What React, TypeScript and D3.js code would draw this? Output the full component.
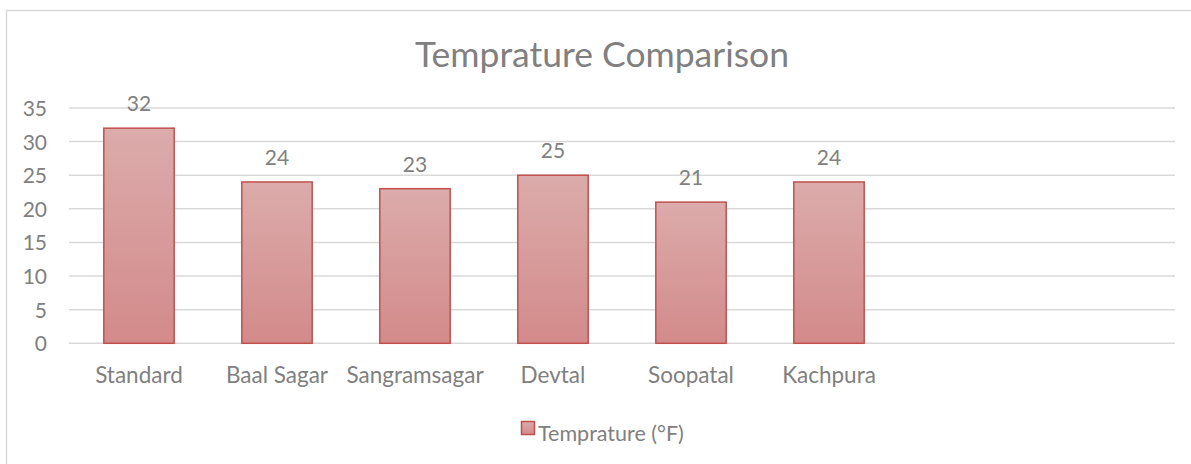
import React from 'react';
import * as d3 from 'd3';

const categories = ['Standard', 'Baal Sagar', 'Sangramsagar', 'Devtal', 'Soopatal', 'Kachpura'];
const temperature = [32, 24, 23, 25, 21, 24];
const yTicks = [0, 5, 10, 15, 20, 25, 30, 35];
const slotCount = 8; // the category axis has two empty slots on the right
const seriesName = 'Temprature (°F)';
const title = 'Temprature Comparison';

const W = 1191;
const H = 464;
const FONT = 'Lato, "Open Sans", sans-serif';
const TEXT = '#808080';
const GRID = '#d9d9d9';

export default function App() {
  const x = d3
    .scaleBand<number>()
    .domain(d3.range(slotCount))
    .range([70, 1174])
    .paddingInner(0.49)
    .paddingOuter(0.245);
  const y = d3.scaleLinear().domain([0, 35]).range([343.3, 108]);

  return (
    <svg
      width={W}
      height={H}
      style={{ position: 'absolute', left: 0, top: 0, display: 'block', background: '#fff' }}
    >
      <defs>
        <linearGradient id="barFill" x1="0" y1="0" x2="0" y2="1">
          <stop offset="0" stopColor="#dcabab" />
          <stop offset="1" stopColor="#d38a8a" />
        </linearGradient>
      </defs>
      <rect x={6.5} y={10.5} width={1200} height={500} fill="#fff" stroke={GRID} strokeWidth={1.5} />

      <text x={602} y={67} textAnchor="middle" fontFamily={FONT} fontSize={35.5} fill={TEXT}>
        {title}
      </text>

      {yTicks.map((t) => (
        <g key={t}>
          <line x1={69} x2={1175} y1={y(t)} y2={y(t)} stroke={GRID} strokeWidth={1.5} />
          <text x={47} y={y(t) + 8} textAnchor="end" fontFamily={FONT} fontSize={21} fill={TEXT}>
            {t}
          </text>
        </g>
      ))}

      {temperature.map((v, i) => {
        const bx = x(i) as number;
        const bw = x.bandwidth();
        return (
          <g key={categories[i]}>
            <rect
              x={bx}
              y={y(v)}
              width={bw}
              height={y(0) - y(v)}
              fill="url(#barFill)"
              stroke="#c0504d"
              strokeWidth={1.5}
            />
            <text
              x={bx + bw / 2}
              y={y(v) - 17}
              textAnchor="middle"
              fontFamily={FONT}
              fontSize={21}
              fill={TEXT}
            >
              {v}
            </text>
            <text
              x={bx + bw / 2}
              y={383}
              textAnchor="middle"
              fontFamily={FONT}
              fontSize={22.5}
              fill={TEXT}
            >
              {categories[i]}
            </text>
          </g>
        );
      })}

      <g>
        <rect x={521.5} y={421.5} width={13} height={13} fill="url(#barFill)" stroke="#c0504d" strokeWidth={1.5} />
        <text x={538} y={441} fontFamily={FONT} fontSize={21.5} fill={TEXT}>
          {seriesName}
        </text>
      </g>
    </svg>
  );
}
